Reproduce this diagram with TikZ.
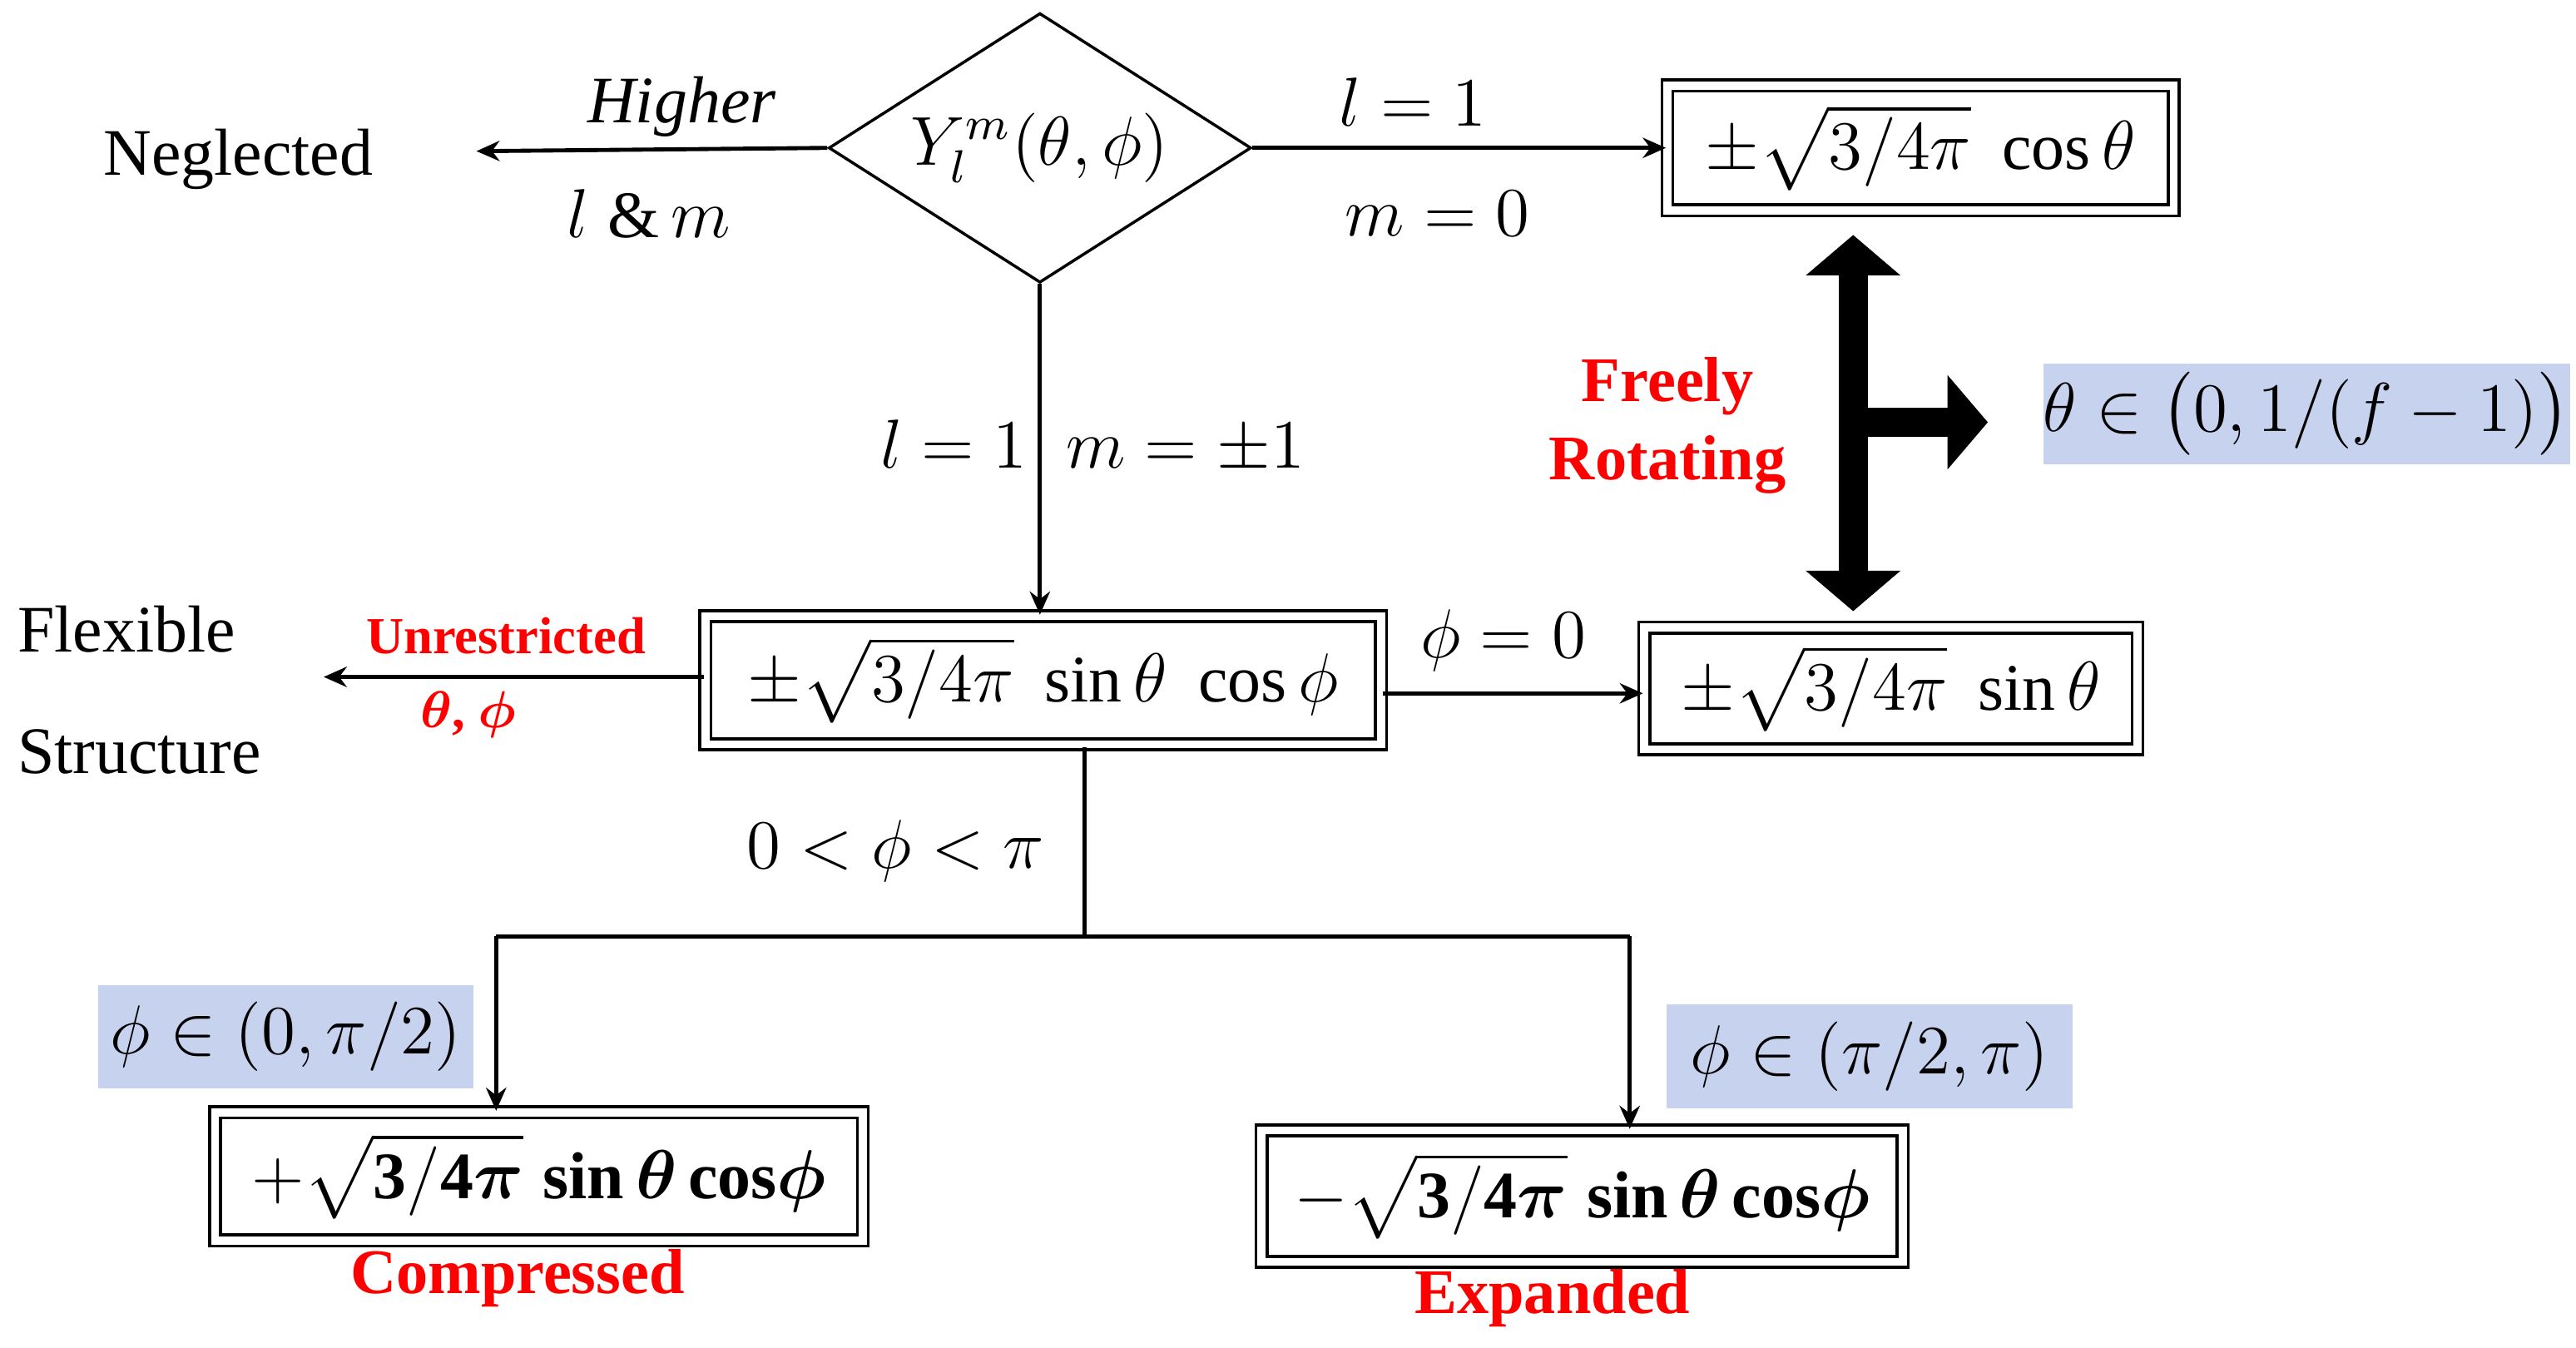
\documentclass[tikz,border=0pt]{standalone}
\usepackage{amsmath,bm}
\usepackage{fontspec}
\setmainfont{Liberation Serif}
\usetikzlibrary{shapes.geometric,arrows.meta}
\begin{document}
\begin{tikzpicture}[x=0.01cm,y=-0.01cm,
  txt/.style={font=\fontsize{11.5}{13}\selectfont,inner sep=0pt},
  red/.style={text=red,font=\bfseries\fontsize{9}{11}\selectfont,inner sep=0pt},
  red2/.style={text=red,font=\bfseries\fontsize{11}{13}\selectfont,inner sep=0pt},
  dbox/.style={draw,double,double distance=1.4pt,line width=0.5pt,inner sep=0pt,font=\fontsize{11.5}{13}\selectfont},
  blu/.style={fill=cyan!45!blue!22,inner sep=0pt,font=\fontsize{11.5}{13}\selectfont},
  arr/.style={-{Stealth[length=4pt,width=3.5pt]},line width=0.7pt}]
\useasboundingbox (0,0) rectangle (1568,820);
\node[diamond,draw,line width=0.5pt,inner sep=0pt,aspect=1.6,minimum width=2.57cm,minimum height=1.64cm,font=\fontsize{11.5}{13}\selectfont] (Y) at (633,90) {$Y_l^m(\theta,\phi)$};
\node[txt] (neg) at (145,97) {Neglected};
\coordinate (negR) at (290,92);
\draw[arr] (Y.west) -- (negR);
\node[txt] at (415,65) {\itshape Higher};
\node[txt] at (395,130) {$l\;\&\,m$};
\node[dbox,minimum width=3.08cm,minimum height=0.76cm] (cos) at (1169,90) {$\pm\sqrt{3/4\pi}\;\cos\theta$};
\draw[arr] (Y.east) -- (cos.west);
\node[txt] at (860,62) {$l=1$};
\node[txt] at (875,130) {$m=0$};
\node[dbox,minimum width=4.11cm,minimum height=0.78cm] (mid) at (635,414) {$\pm\sqrt{3/4\pi}\;\sin\theta\;\cos\phi$};
\draw[arr] (Y.south) -- (Y.south |- mid.north);
\node[txt] at (665,272) {$l=1\;\;m=\pm1$};
\node[txt,align=left,anchor=west] (flex) at (10,420) {Flexible\\[8pt]Structure};
\coordinate (flexR) at (197,412);
\draw[arr] (mid.west |- 0,412) -- (flexR);
\node[red] at (308,387) {Unrestricted};
\node[red] at (285,435) {$\bm{\theta}$, $\bm{\phi}$};
\node[dbox,minimum width=3.0cm,minimum height=0.74cm] (sin) at (1151,419) {$\pm\sqrt{3/4\pi}\;\sin\theta$};
\draw[arr] (mid.east |- 0,422) -- (sin.west |- 0,422);
\node[txt] at (915,390) {$\phi=0$};
\coordinate (tt) at (1128,143); \coordinate (tb) at (1128,372); \coordinate (tr) at (1210,257);
\draw[line width=5pt,-{Triangle[length=7pt,width=16pt]}] (1128,257) -- (tt);
\draw[line width=5pt,-{Triangle[length=7pt,width=16pt]}] (1128,257) -- (tb);
\draw[line width=5pt,-{Triangle[length=7pt,width=16pt]}] (1126,257) -- (tr);
\node[red2] at (1015,235) {Freely};
\node[red2] at (1015,283) {Rotating};
\node[blu,minimum width=3.12cm,minimum height=0.61cm] (b1) at (1404,252) {$\theta\in\bigl(0,1/(f-1)\bigr)$};
\coordinate (j) at (660,570); \coordinate (jl) at (302,570); \coordinate (jr) at (992,570);
\draw[line width=0.7pt] (660,455) -- (j);
\draw[line width=0.7pt] (jl) -- (jr);
\node[txt] at (545,518) {$0<\phi<\pi$};
\node[dbox,minimum width=3.94cm,minimum height=0.78cm] (cp) at (328,716) {$+\sqrt{\mathbf{3/4}\bm{\pi}}\;\mathbf{sin}\,\bm{\theta}\,\mathbf{cos}\bm{\phi}$};
\node[dbox,minimum width=3.9cm,minimum height=0.8cm] (ex) at (963,728) {$-\sqrt{\mathbf{3/4}\bm{\pi}}\;\mathbf{sin}\,\bm{\theta}\,\mathbf{cos}\bm{\phi}$};
\draw[arr] (jl) -- (jl |- cp.north);
\draw[arr] (jr) -- (jr |- ex.north);
\node[blu,minimum width=2.28cm,minimum height=0.63cm] at (174,631) {$\phi\in(0,\pi/2)$};
\node[blu,minimum width=2.47cm,minimum height=0.63cm] at (1138,643) {$\phi\in(\pi/2,\pi)$};
\node[red2] at (315,778) {Compressed};
\node[red2] at (945,790) {Expanded};
\end{tikzpicture}
\end{document}
